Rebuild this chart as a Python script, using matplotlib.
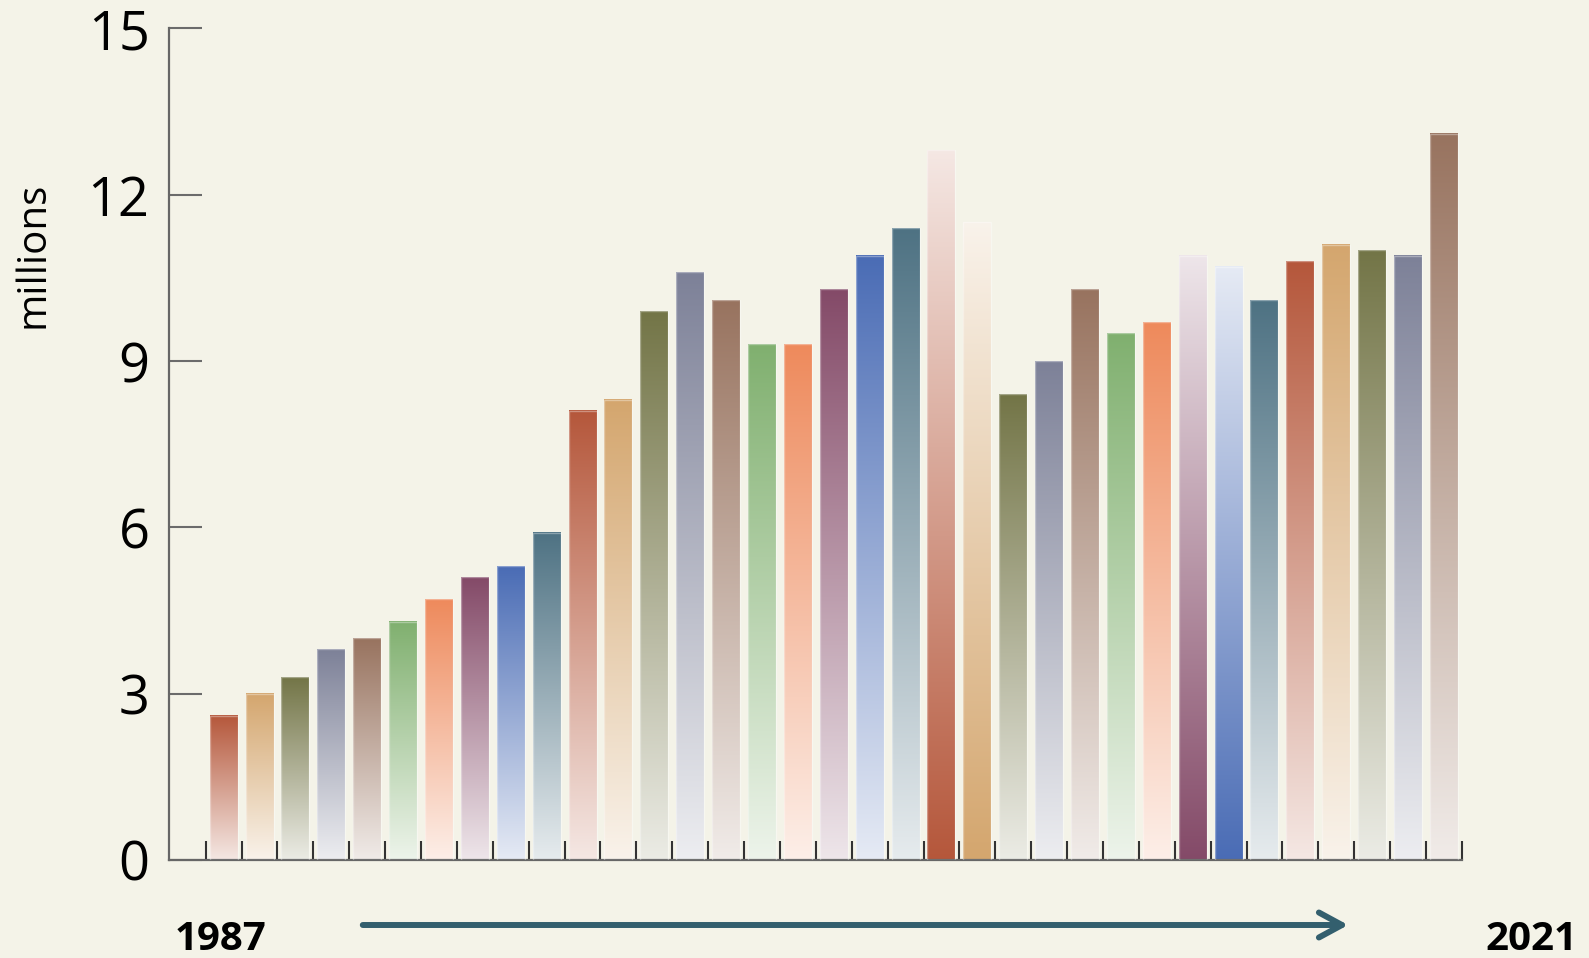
import numpy as np
import matplotlib.pyplot as plt
from matplotlib.colors import to_rgb
from matplotlib.patches import FancyArrowPatch

plt.rcParams['font.family'] = ['Open Sans', 'DejaVu Sans']

years = list(range(1987, 2022))
values = [2.6, 3.0, 3.3, 3.8, 4.0, 4.3, 4.7, 5.1, 5.3, 5.9,
          8.1, 8.3, 9.9, 10.6, 10.1, 9.3, 9.3, 10.3, 10.9, 11.4,
          12.8, 11.5, 8.4, 9.0, 10.3, 9.5, 9.7, 10.9, 10.7, 10.1,
          10.8, 11.1, 11.0, 10.9, 13.1]
palette = ['#b5573b', '#d4a66e', '#737547', '#7d8198', '#98735f',
           '#80b06f', '#ee8a5c', '#844a68', '#4a6cb5', '#4e7283']
# these years fade the other way: pale on top, full colour at the base
flipped = [2007, 2008, 2014, 2015]
yticks = [0, 3, 6, 9, 12, 15]

bg = '#f4f3e8'
fig = plt.figure(figsize=(15.89, 9.58), dpi=100, facecolor=bg)
ax = fig.add_axes([0.1064, 0.1023, 0.8136, 0.868])
ax.set_facecolor(bg)

x = np.arange(len(years))
bars = ax.bar(x, values, width=0.78, color='none',
              edgecolor=(1, 1, 1, 0.35), linewidth=1, zorder=3)

t = np.linspace(0, 1, 256)[:, None]
for i, (b, yr) in enumerate(zip(bars, years)):
    c = np.array(to_rgb(palette[i % len(palette)]))
    light = c * 0.14 + 0.86
    if yr in flipped:
        grad = c + (light - c) * t
    else:
        grad = light + (c - light) * t
    ax.imshow(grad.reshape(256, 1, 3),
              extent=[b.get_x(), b.get_x() + b.get_width(), 0, b.get_height()],
              origin='lower', aspect='auto', interpolation='bilinear', zorder=2)

ax.set_xlim(-1.52, 34.5)
ax.set_ylim(0, 15)
ax.set_xticks(np.arange(-0.5, len(years), 1))
ax.set_yticks(yticks)
ax.tick_params(axis='x', direction='in', length=14, width=1.5,
               color='#333333', labelbottom=False)
ax.tick_params(axis='y', direction='in', length=24, width=1.5,
               color='#6b6b6b', labelsize=39, pad=14)
for side in ['top', 'right']:
    ax.spines[side].set_visible(False)
for side in ['left', 'bottom']:
    ax.spines[side].set_color('#666666')
    ax.spines[side].set_linewidth(1.6)

fig.text(0.0208, 1 - 255 / 958, 'millions', rotation=90,
         ha='center', va='center', fontsize=29)
fig.text(175 / 1589, 8 / 958, str(years[0]), fontsize=29,
         fontweight='bold', ha='left', va='baseline')
fig.text(1485 / 1589, 8 / 958, str(years[-1]), fontsize=29,
         fontweight='bold', ha='left', va='baseline')

arrow = FancyArrowPatch((360 / 1589, 1 - 925 / 958), (1351 / 1589, 1 - 925 / 958),
                        transform=fig.transFigure,
                        arrowstyle='->,head_length=0.83,head_width=0.45',
                        mutation_scale=20, lw=4.3, color='#335f6e')
fig.add_artist(arrow)

fig.savefig('out.png', dpi=100, facecolor=bg)
